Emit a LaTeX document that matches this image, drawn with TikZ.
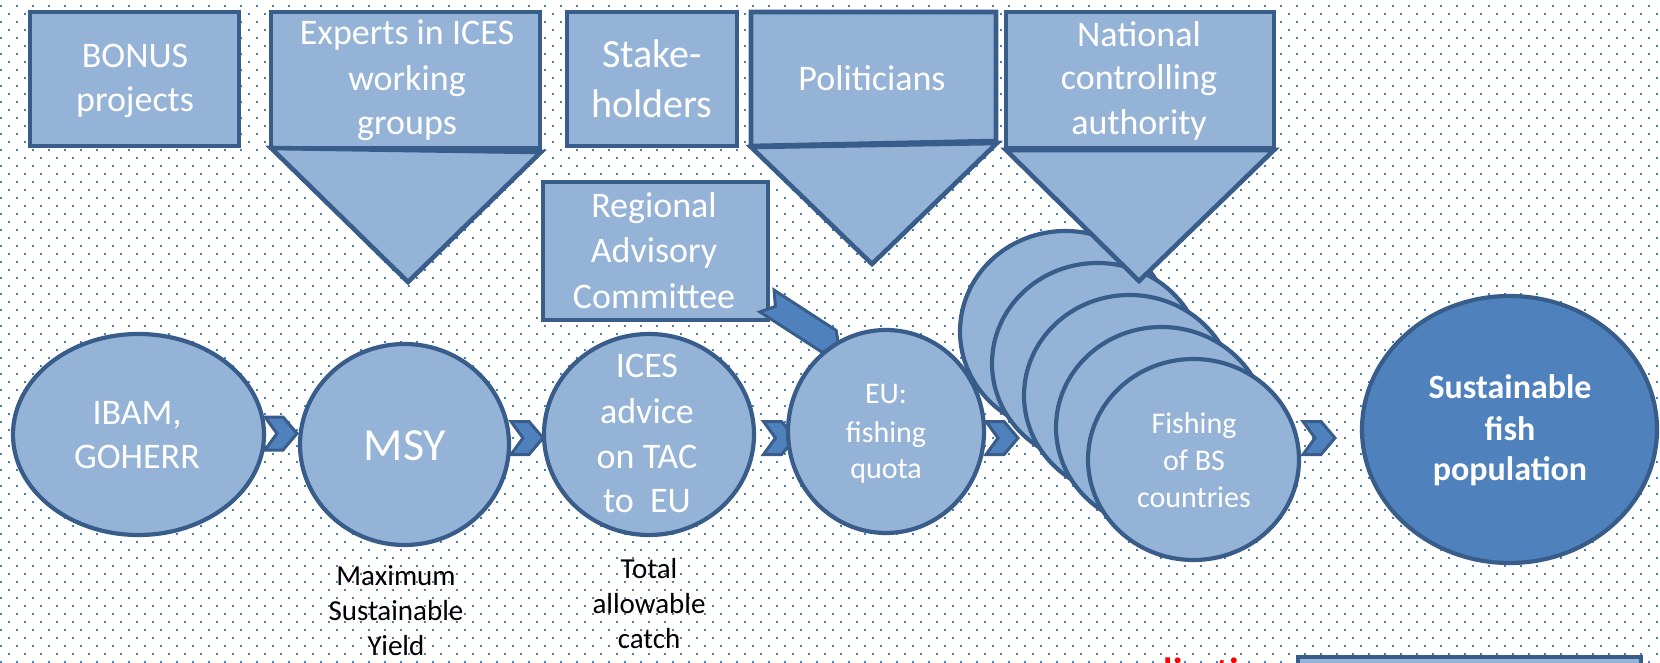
\documentclass[tikz,border=0pt]{standalone}
\usepackage{fontspec}
\setmainfont{Carlito}
\definecolor{lightfill}{HTML}{95B3D7}
\definecolor{edgeblue}{HTML}{385D8A}
\definecolor{midblue}{HTML}{4F81BD}
\definecolor{dotblue}{HTML}{4A7EBB}
\newcommand\fsA{\fontsize{18pt}{22pt}\selectfont}
\newcommand\fsB{\fontsize{20pt}{24pt}\selectfont}
\newcommand\fsM{\fontsize{23pt}{27pt}\selectfont}
\newcommand\fsS{\fontsize{15pt}{18pt}\selectfont}
\newcommand\fsN{\fontsize{14.5pt}{17pt}\selectfont}
\newcommand\fsT{\fontsize{17pt}{20pt}\selectfont\bfseries}
\newcommand\fsR{\fontsize{19pt}{22pt}\selectfont\bfseries}
\tikzset{
  shp/.style={fill=lightfill, draw=edgeblue, line width=2.3pt, line join=miter},
  circ/.style={fill=lightfill, draw=edgeblue, line width=2.1pt},
  darkcirc/.style={fill=midblue, draw=edgeblue, line width=2.1pt},
  chev/.style={fill=midblue, draw=edgeblue, line width=1.5pt, line join=miter},
  wt/.style={text=white, inner sep=0pt, anchor=base},
  bk/.style={text=black, inner sep=0pt, anchor=base},
}
\begin{document}
\begin{tikzpicture}[x=0.5pt,y=-0.5pt]
\useasboundingbox (0,0) rectangle (1660,663);
\fill[white] (0,0) rectangle (1660,663);
% dotted background
\foreach \j in {0,...,82}{
  \pgfmathsetmacro\xs{mod(\j,2)*8-0.3}
  \pgfmathsetmacro\yy{6+8*\j}
  \draw[dotblue, line width=1pt, dash pattern=on 1pt off 7pt] (\xs,\yy) -- (1662,\yy);
}
% chevron connectors
\coordinate (ch1) at (281,433.5);
\coordinate (ch2) at (527,438);
\coordinate (ch3) at (779.5,438);
\coordinate (ch4) at (1002,438);
\coordinate (ch5) at (1319,438);
\foreach \c in {ch1,ch2,ch3,ch4,ch5}{
  \draw[chev, shift={(\c)}] (-16,-16.5) -- (2,-16.5) -- (16,0) -- (2,16.5) -- (-16,16.5) -- (-4,0) -- cycle;
}
% circles
\draw[circ] (138.5,434.5) ellipse [x radius=62.75pt, y radius=50.25pt];
\draw[circ] (404.5,444.5) ellipse [x radius=52.25pt, y radius=50.25pt];
\draw[circ] (649,434.5) ellipse [x radius=52.5pt, y radius=50.25pt];
% regional box and its arrow
\draw[shp] (543,182) rectangle (768,320);
\draw[chev] (774.1,290.1) -- (836.1,330.4) -- (839.1,347.8) -- (822.0,352.2) -- (759.9,311.9) -- (775.4,306.4) -- cycle;
\draw[circ] (886,431.5) ellipse [x radius=49pt, y radius=50.75pt];
% stack of fishing circles
\foreach \k in {4,3,2,1,0}{
  \pgfmathsetmacro\cx{1193.5-32*\k}
  \pgfmathsetmacro\cy{459.5-32*\k}
  \draw[circ] (\cx,\cy) ellipse [x radius=52.75pt, y radius=50.25pt];
}
\draw[darkcirc] (1509.5,429.5) ellipse [x radius=73.75pt, y radius=66.75pt];
% top boxes
\draw[shp] (30,12) rectangle (239,146);
\draw[shp] (567,12) rectangle (737,146);
\draw[shp] (271,12) rectangle (540,148);
\draw[shp] (271,148) -- (408,282) -- (541,152) -- cycle;
\draw[shp] (751,12) -- (996,12) -- (996,141) -- (751,146) -- cycle;
\draw[shp] (751,147) -- (872,264) -- (997,143) -- cycle;
\draw[shp] (1006,12) rectangle (1274,148);
\draw[shp] (1006,150) -- (1139,281) -- (1274,150) -- cycle;
% bottom right partial box and red text
\draw[shp] (1298,657) rectangle (1641,720);
\node[inner sep=0pt, anchor=base west, text=red, font=\fsR] (redtxt) at (1104,684) {application};
% texts
\node[wt,font=\fsA] (bonA) at (135,68) {BONUS};
\node[wt,font=\fsA] (bonB) at (135,112) {projects};
\node[wt,font=\fsA] (expA) at (407,45) {Experts in ICES};
\node[wt,font=\fsA] (expB) at (407,91) {working};
\node[wt,font=\fsA] (expC) at (407,135) {groups};
\node[wt,font=\fsB] (stkA) at (652,68) {Stake-};
\node[wt,font=\fsB] (stkB) at (652,118) {holders};
\node[wt,font=\fsA] (pol) at (872,91) {Politicians};
\node[wt,font=\fsA] (natA) at (1139,47) {National};
\node[wt,font=\fsA] (natB) at (1139,90) {controlling};
\node[wt,font=\fsA] (natC) at (1139,135) {authority};
\node[wt,font=\fsA] (regA) at (654,218) {Regional};
\node[wt,font=\fsA] (regB) at (654,263) {Advisory};
\node[wt,font=\fsA] (regC) at (654,308) {Committee};
\node[wt,font=\fsA] (ibA) at (137,424) {IBAM,};
\node[wt,font=\fsA] (ibB) at (137,468) {GOHERR};
\node[wt,font=\fsM] (msy) at (405,460) {MSY};
\node[wt,font=\fsA] (icA) at (647,378) {ICES};
\node[wt,font=\fsA] (icB) at (647,423) {advice};
\node[wt,font=\fsA] (icC) at (647,468) {on TAC};
\node[wt,font=\fsA] (icD) at (647,512) {to~ EU};
\node[bk,font=\fsN] (mxA) at (396,585) {Maximum};
\node[bk,font=\fsN] (mxB) at (396,620) {Sustainable};
\node[bk,font=\fsN] (mxC) at (396,655) {Yield};
\node[bk,font=\fsN] (ttA) at (649,578) {Total};
\node[bk,font=\fsN] (ttB) at (649,613) {allowable};
\node[bk,font=\fsN] (ttC) at (649,648) {catch};
\node[wt,font=\fsS] (euA) at (886,403) {EU:};
\node[wt,font=\fsS] (euB) at (886,442) {fishing};
\node[wt,font=\fsS] (euC) at (886,478) {quota};
\node[wt,font=\fsS] (fiA) at (1194,433) {Fishing};
\node[wt,font=\fsS] (fiB) at (1194,470) {of BS};
\node[wt,font=\fsS] (fiC) at (1194,507) {countries};
\node[wt,font=\fsT] (suA) at (1510,398) {Sustainable};
\node[wt,font=\fsT] (suB) at (1510,440) {fish};
\node[wt,font=\fsT] (suC) at (1510,480) {population};
\end{tikzpicture}
\end{document}
